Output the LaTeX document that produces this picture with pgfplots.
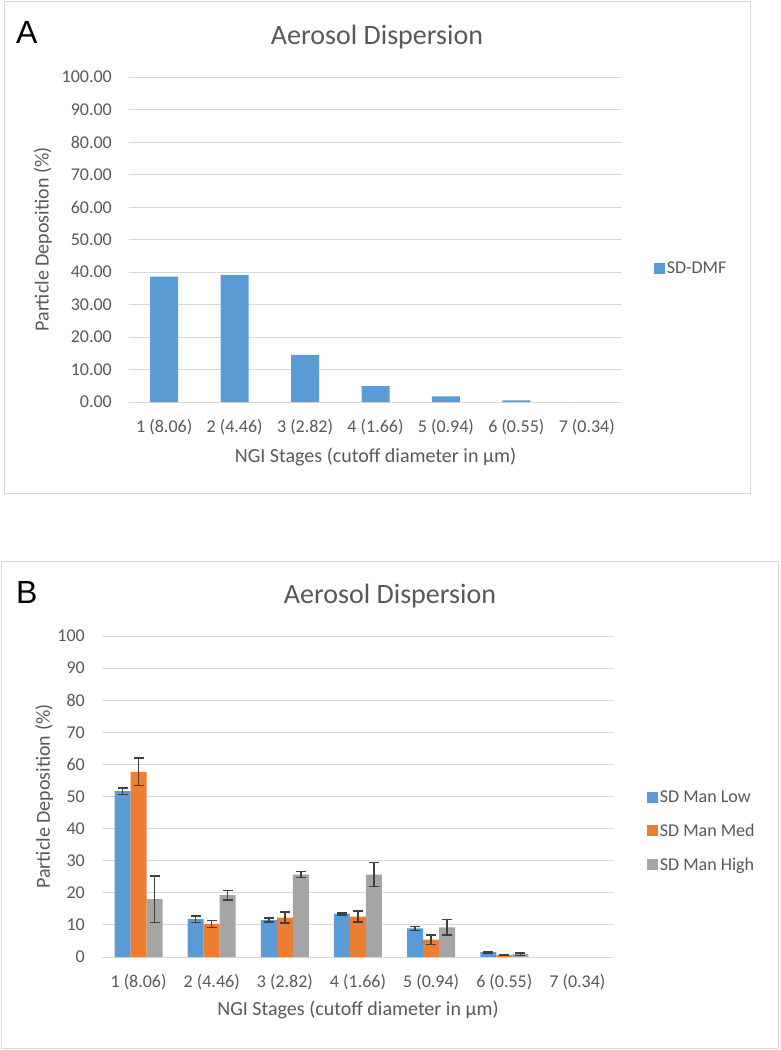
\documentclass[border=0pt]{standalone}
\usepackage{fontspec}
\setmainfont{Carlito}
\newfontfamily\letterfont{Liberation Sans}
\usepackage{pgfplots}
\usepackage{pgfplotstable}
\pgfplotsset{compat=1.18}

\definecolor{xblue}{HTML}{5B9BD5}
\definecolor{xorange}{HTML}{ED7D31}
\definecolor{xgray}{HTML}{A5A5A5}
\definecolor{txt}{HTML}{595959}
\definecolor{gridc}{HTML}{D9D9D9}
\definecolor{errc}{HTML}{404040}

% panel A: one series
\pgfplotstableread{
x  dmf
0  38.6
1  39.1
2  14.5
3  4.9
4  1.7
5  0.5
6  0.0
}\dataA

% panel B: three series with error
\pgfplotstableread{
x  low   lowe  med   mede  high  highe
0  51.7  1.0   57.7  4.3   18.0  7.3
1  11.8  1.0   10.3  1.1   19.3  1.5
2  11.5  0.6   12.3  1.7   25.7  0.85
3  13.4  0.35  12.6  1.75  25.7  3.8
4  8.9   0.6   5.4   1.5   9.2   2.4
5  1.5   0.2   0.6   0.1   0.9   0.4
}\dataB

\pgfplotsset{
  excel/.style={
    scale only axis,
    ymin=0, ymax=100, ytick={0,10,...,100},
    xmin=-0.5, xmax=6.5,
    xtick={0,...,6},
    xticklabels={1 (8.06),2 (4.46),3 (2.82),4 (1.66),5 (0.94),6 (0.55),7 (0.34)},
    axis line style={draw=none},
    major tick length=0pt,
    ymajorgrids,
    major grid style={gridc, line width=1pt},
    /pgf/number format/assume math mode=true,
    tick label style={font=\fontsize{18}{21}\selectfont, color=txt},
    xticklabel style={anchor=center, yshift=-25pt},
    yticklabel style={anchor=east, inner sep=0pt, xshift=-17pt},
    label style={font=\fontsize{20}{24}\selectfont, color=txt},
    xlabel={NGI Stages (cutoff diameter in µm)},
    ylabel={Particle Deposition (\%)},
    legend style={draw=none, fill=none, font=\fontsize{18}{21}\selectfont,
      text=txt, legend cell align=left, anchor=west,
      nodes={inner sep=2pt}, row sep=16pt},
  },
  squarelegend/.style={
    legend image code/.code={\fill[##1] (0pt,-5.5pt) rectangle (11pt,5.5pt);},
  },
  errs/.style={
    error bars/.cd, y dir=both, y explicit,
    error bar style={errc, line width=1.4pt},
    error mark options={errc, line width=1.4pt, mark size=5pt, rotate=90},
  },
}

\begin{document}
\begin{tikzpicture}[x=1pt,y=1pt]
\path[fill=white] (0,0) rectangle (780,-1050);
\draw[gridc, line width=1pt] (4,-1) rectangle (750,-493);
\draw[gridc, line width=1pt] (1.5,-561) rectangle (778.5,-1048);
\node[anchor=base west, inner sep=0pt, font=\letterfont\fontsize{32}{36}\selectfont] at (16,-43) {A};
\node[anchor=base west, inner sep=0pt, font=\letterfont\fontsize{32}{36}\selectfont] at (16,-603) {B};
\node[anchor=base, inner sep=0pt, text=txt, font=\fontsize{28}{32}\selectfont] at (377,-44) {Aerosol Dispersion};
\node[anchor=base, inner sep=0pt, text=txt, font=\fontsize{28}{32}\selectfont] at (390,-603) {Aerosol Dispersion};

\begin{axis}[excel, ybar,
  at={(129pt,-402pt)}, anchor=south west,
  width=493pt, height=325pt,
  bar width=28pt,
  yticklabel style={/pgf/number format/.cd, fixed, fixed zerofill, precision=2},
  xlabel style={at={(axis description cs:0.5,0)}, anchor=center, yshift=-55pt},
  ylabel style={at={(axis description cs:-0.1744,0.5)}, anchor=center},
  legend style={at={(rel axis cs:1.058,0.412)}},
  squarelegend,
]
\addplot[fill=xblue, draw=none] table[x=x, y=dmf] {\dataA};
\legend{SD-DMF}
\end{axis}

\begin{axis}[excel, ybar=0pt,
  at={(102pt,-957pt)}, anchor=south west,
  width=512pt, height=321pt,
  bar width=16pt,
  xlabel style={at={(axis description cs:0.5,0)}, anchor=center, yshift=-53pt},
  ylabel style={at={(axis description cs:-0.113,0.5)}, anchor=center},
  legend style={at={(rel axis cs:1.058,0.3925)}},
  squarelegend,
]
\addplot[fill=xblue, draw=none, errs] table[x=x, y=low, y error=lowe] {\dataB};
\addplot[fill=xorange, draw=none, errs] table[x=x, y=med, y error=mede] {\dataB};
\addplot[fill=xgray, draw=none, errs] table[x=x, y=high, y error=highe] {\dataB};
\legend{SD Man Low, SD Man Med, SD Man High}
\end{axis}
\end{tikzpicture}
\end{document}
